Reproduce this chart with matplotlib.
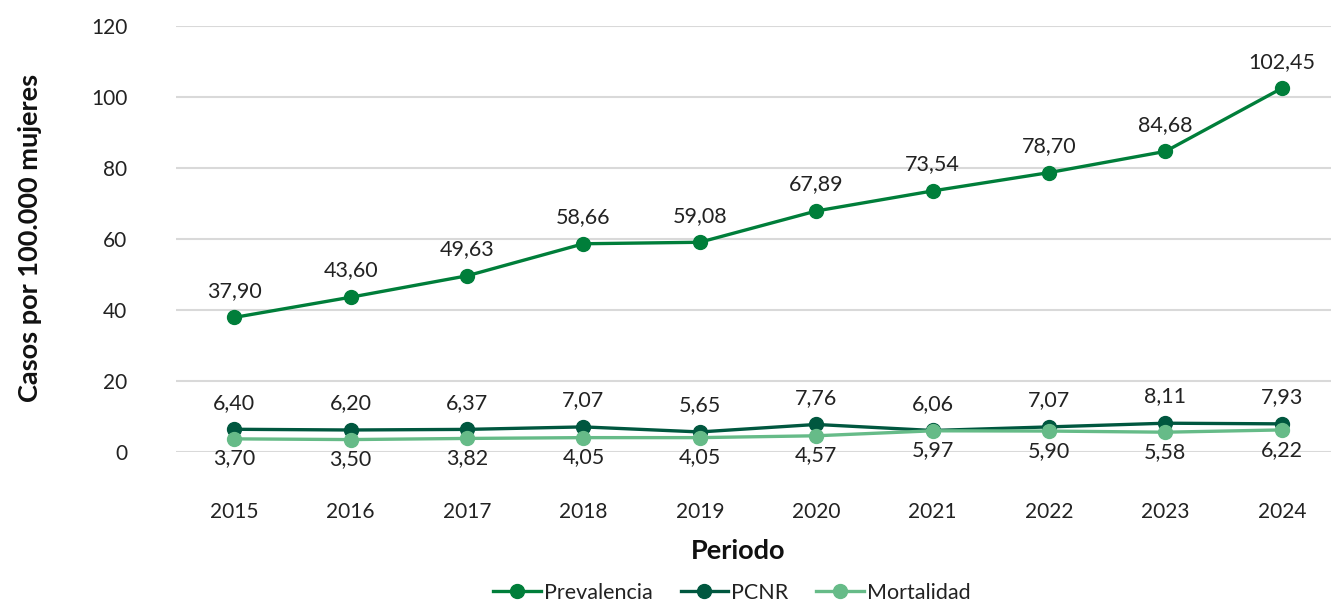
import matplotlib
matplotlib.use("Agg")
import matplotlib.pyplot as plt

years = ["2015", "2016", "2017", "2018", "2019", "2020", "2021", "2022", "2023", "2024"]
prevalencia = [37.90, 43.60, 49.63, 58.66, 59.08, 67.89, 73.54, 78.70, 84.68, 102.45]
pcnr = [6.40, 6.20, 6.37, 7.07, 5.65, 7.76, 6.06, 7.07, 8.11, 7.93]
mortalidad = [3.70, 3.50, 3.82, 4.05, 4.05, 4.57, 5.97, 5.90, 5.58, 6.22]
yticks = [0, 20, 40, 60, 80, 100, 120]

plt.rcParams['font.family'] = ['Lato', 'DejaVu Sans']

W, H = 1331, 601
fig = plt.figure(figsize=(W / 100, H / 100), dpi=100)
left, right, top, bottom = 176, 1340, 26, 452
ax = fig.add_axes([left / W, 1 - bottom / H, (right - left) / W, (bottom - top) / H])

x = list(range(len(years)))
c_prev = "#007E3A"
c_pcnr = "#00573F"
c_mort = "#66BB88"

ax.plot(x, prevalencia, color=c_prev, lw=2.4, marker='o', ms=10, label="Prevalencia", clip_on=False, zorder=3)
ax.plot(x, pcnr, color=c_pcnr, lw=2.4, marker='o', ms=10, label="PCNR", clip_on=False, zorder=4)
ax.plot(x, mortalidad, color=c_mort, lw=2.4, marker='o', ms=10, label="Mortalidad", clip_on=False, zorder=5)

def fmt(v):
    return f"{v:.2f}".replace('.', ',')

fs = 15.5
for xi, v in zip(x, prevalencia):
    ax.annotate(fmt(v), (xi, v), xytext=(0, 12), textcoords='offset points',
                ha='center', va='bottom', fontsize=fs, color='#222222')
for xi, v in zip(x, pcnr):
    ax.annotate(fmt(v), (xi, v), xytext=(0, 12), textcoords='offset points',
                ha='center', va='bottom', fontsize=fs, color='#222222')
for xi, v in zip(x, mortalidad):
    ax.annotate(fmt(v), (xi, v), xytext=(0, -7), textcoords='offset points',
                ha='center', va='top', fontsize=fs, color='#222222')

ax.set_xlim(-0.5, len(years) - 0.5)
ax.set_ylim(0, 120)
ax.set_yticks(yticks)
ax.set_yticklabels([str(t) for t in yticks])
ax.set_xticks(x)
ax.set_xticklabels(years)
ax.tick_params(axis='both', length=0, labelsize=15, labelcolor='#222222')
ax.tick_params(axis='x', pad=36)
ax.tick_params(axis='y', pad=35)
ax.grid(axis='y', color='#d9d9d9', lw=1.5)
ax.set_axisbelow(True)
for s in ax.spines.values():
    s.set_visible(False)

fig.text(30 / W, 1 - 238 / H, "Casos por 100.000 mujeres", rotation=90, ha='center', va='center',
         fontsize=19.5, fontweight='bold', color='#111111')
fig.text(738 / W, 1 - 551 / H, "Periodo", ha='center', va='center',
         fontsize=19.5, fontweight='bold', color='#111111')

fig.legend(loc='center', bbox_to_anchor=(732 / W, 1 - 593 / H), ncol=3, frameon=False,
           fontsize=15.5, handlelength=2.2, handletextpad=0.15, columnspacing=1.3,
           labelcolor='#222222')

fig.savefig("out.png", dpi=100)
